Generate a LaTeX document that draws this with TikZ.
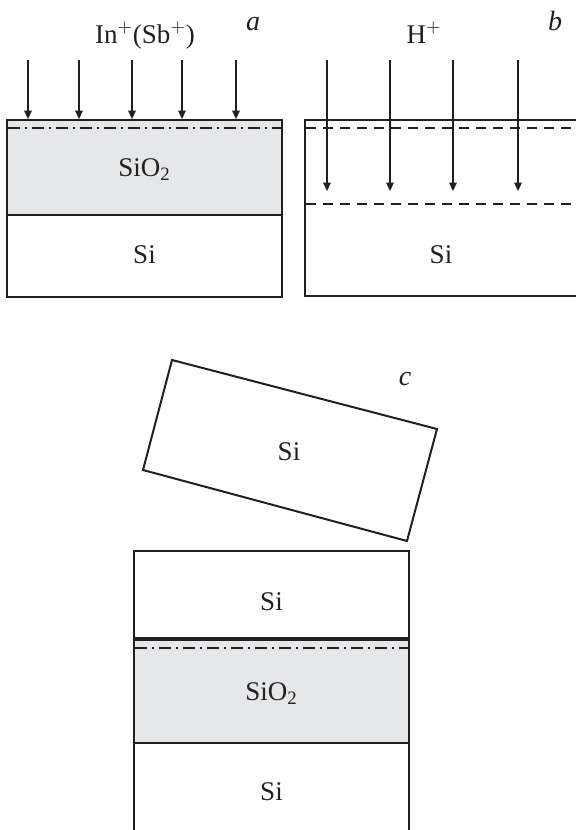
\documentclass[tikz,border=0pt]{standalone}
\usepackage{fontspec}
\setmainfont{Liberation Serif}
\usetikzlibrary{arrows.meta}
\definecolor{oxide}{RGB}{230,231,232}
\definecolor{ink}{RGB}{35,31,32}

\begin{document}
\begin{tikzpicture}[x=0.5pt,y=-0.5pt,
    every node/.style={font=\fontsize{13.5}{16}\selectfont, text=ink, inner sep=0pt, anchor=base},
    tag/.style={font=\fontsize{14}{16}\selectfont\itshape},
    layer/.style={draw=ink, line width=1pt},
    bondline/.style={draw=ink, line width=1.7pt},
    implant/.style={draw=ink, line width=0.8pt, dash pattern=on 6pt off 2.5pt on 1pt off 2.5pt},
    splitline/.style={draw=ink, line width=0.8pt, dash pattern=on 5pt off 3.5pt},
    beam/.style={draw=ink, line width=0.6pt, -{Triangle[length=4.2pt,width=3.8pt]}}]
  \useasboundingbox (0,0) rectangle (576,830);

  % (a) oxidised wafer, In+ (Sb+) implantation
  \fill[oxide] (7,120) rectangle (282,215);
  \draw[layer] (7,120) rectangle (282,297);
  \draw[layer] (7,215) -- (282,215);
  \draw[implant] (8,128) -- (281,128);
  \foreach \x [count=\i] in {28,79,132,182,236} {
    \coordinate (a-top-\i) at (\x,60);
    \coordinate (a-end-\i) at (\x,119);
    \draw[beam] (a-top-\i) -- (a-end-\i);
  }
  \node (ionA) at (145,43) {In$^+$(Sb$^+$)};
  \node[tag] (tagA) at (253,30) {a};
  \node (oxA) at (144.5,176) {SiO\textsubscript{2}};
  \node (siA) at (144.5,263) {Si};

  % (b) second wafer, H+ implantation
  \draw[layer] (576,120) -- (305,120) -- (305,296) -- (576,296);
  \draw[splitline] (306,128) -- (576,128);
  \draw[splitline] (306,204) -- (576,204);
  \foreach \x [count=\i] in {327,390,453,518} {
    \coordinate (b-top-\i) at (\x,60);
    \coordinate (b-end-\i) at (\x,191);
    \draw[beam] (b-top-\i) -- (b-end-\i);
  }
  \node (ionB) at (424,43) {H$^+$};
  \node[tag] (tagB) at (555,30) {b};
  \node (siB) at (441,263) {Si};

  % (c) bonding, tilted wafer above the stack
  \draw[layer] (172,360) -- (437,429) -- (407,541) -- (143,470) -- cycle;
  \node (siC) at (289,460) {Si};
  \node[tag] (tagC) at (405,385) {c};

  % bonded stack
  \fill[oxide] (134,639) rectangle (409,743);
  \draw[layer] (134,830) -- (134,551) -- (409,551) -- (409,830);
  \draw[bondline] (134,639) -- (409,639);
  \draw[layer] (134,743) -- (409,743);
  \draw[implant] (135,648) -- (408,648);
  \node (siTop) at (271.5,610) {Si};
  \node (oxC) at (271.5,700) {SiO\textsubscript{2}};
  \node (siBot) at (271.5,800) {Si};
\end{tikzpicture}
\end{document}
